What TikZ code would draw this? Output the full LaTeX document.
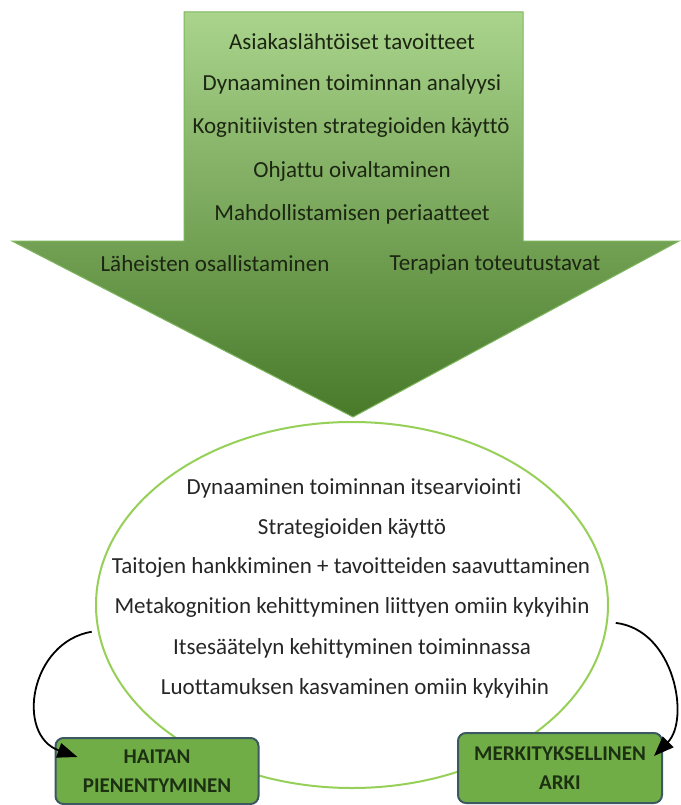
\documentclass[tikz,border=0pt]{standalone}
\usepackage{fontspec}
\setmainfont{Carlito}[Ligatures=NoCommon]
\usetikzlibrary{shapes.geometric,arrows.meta,calc}
\definecolor{arrtop}{RGB}{170,212,140}
\definecolor{arrbot}{RGB}{72,122,42}
\definecolor{arredge}{RGB}{125,182,92}
\definecolor{ellgreen}{RGB}{150,208,88}
\definecolor{boxfill}{RGB}{112,173,71}
\definecolor{boxedge}{RGB}{60,88,96}
\definecolor{arrtext}{RGB}{28,38,18}
\definecolor{elltext}{RGB}{38,38,38}
\definecolor{boxtext}{RGB}{28,48,18}
\begin{document}
\begin{tikzpicture}[x=1pt,y=-1pt,
  arrlabel/.style={font=\fontsize{23}{26}\selectfont, text=arrtext, inner sep=0pt},
  elllabel/.style={font=\fontsize{23}{26}\selectfont, text=elltext, inner sep=0pt},
  resultbox/.style={draw=boxedge, line width=2pt, fill=boxfill, rounded corners=8pt,
     font=\bfseries\fontsize{21}{29}\selectfont, text=boxtext, align=center, inner sep=0pt},
  loop/.style={line width=1.8pt, -{Triangle[length=20pt,width=15pt]}}]
\useasboundingbox (0,0) rectangle (680,805);
% big arrow
\shade[top color=arrtop, bottom color=arrbot, draw=arredge, line width=1pt]
  (184,12) -- (523,12) -- (523,241) -- (679,241) -- (353,417) -- (12,241) -- (184,241) -- cycle;
\node[arrlabel] (a1) at (352,42) {Asiakaslähtöiset tavoitteet};
\node[arrlabel] (a2) at (352,84) {Dynaaminen toiminnan analyysi};
\node[arrlabel] (a3) at (351,127) {Kognitiivisten strategioiden käyttö};
\node[arrlabel] (a4) at (352,171) {Ohjattu oivaltaminen};
\node[arrlabel] (a5) at (352,214) {Mahdollistamisen periaatteet};
\node[arrlabel] (a6) at (215,264) {Läheisten osallistaminen};
\node[arrlabel] (a7) at (495,264) {Terapian toteutustavat};
% ellipse
\node[ellipse, draw=ellgreen, line width=2pt, fill=white, minimum width=512pt, minimum height=366pt, inner sep=0pt] (ell) at (352,605) {};
\node[elllabel] (e1) at (354,488) {Dynaaminen toiminnan itsearviointi};
\node[elllabel] (e2) at (352,528) {Strategioiden käyttö};
\node[elllabel] (e3) at (351,567) {Taitojen hankkiminen + tavoitteiden saavuttaminen};
\node[elllabel] (e4) at (352,607) {Metakognition kehittyminen liittyen omiin kykyihin};
\node[elllabel] (e5) at (352,648) {Itsesäätelyn kehittyminen toiminnassa};
\node[elllabel] (e6) at (355,688) {Luottamuksen kasvaminen omiin kykyihin};
% result boxes
\node[resultbox, minimum width=203pt, minimum height=66pt] (haitan) at (157,771) {HAITAN\\PIENENTYMINEN};
\node[resultbox, minimum width=204pt, minimum height=70pt] (arki) at (560,768) {MERKITYKSELLINEN\\ARKI};
% loops
\coordinate (ls) at ($(ell.186)+(-6,0)$);
\coordinate (le) at ($(haitan.north west)+(23,20)$);
\coordinate (rs) at ($(ell.-4)+(8,0)$);
\coordinate (re) at ($(arki.north east)+(-9,24)$);
\draw[loop] (ls) .. controls (30,642) and (15,735) .. (le);
\draw[loop] (rs) .. controls (675,630) and (690,720) .. (re);
\end{tikzpicture}
\end{document}
